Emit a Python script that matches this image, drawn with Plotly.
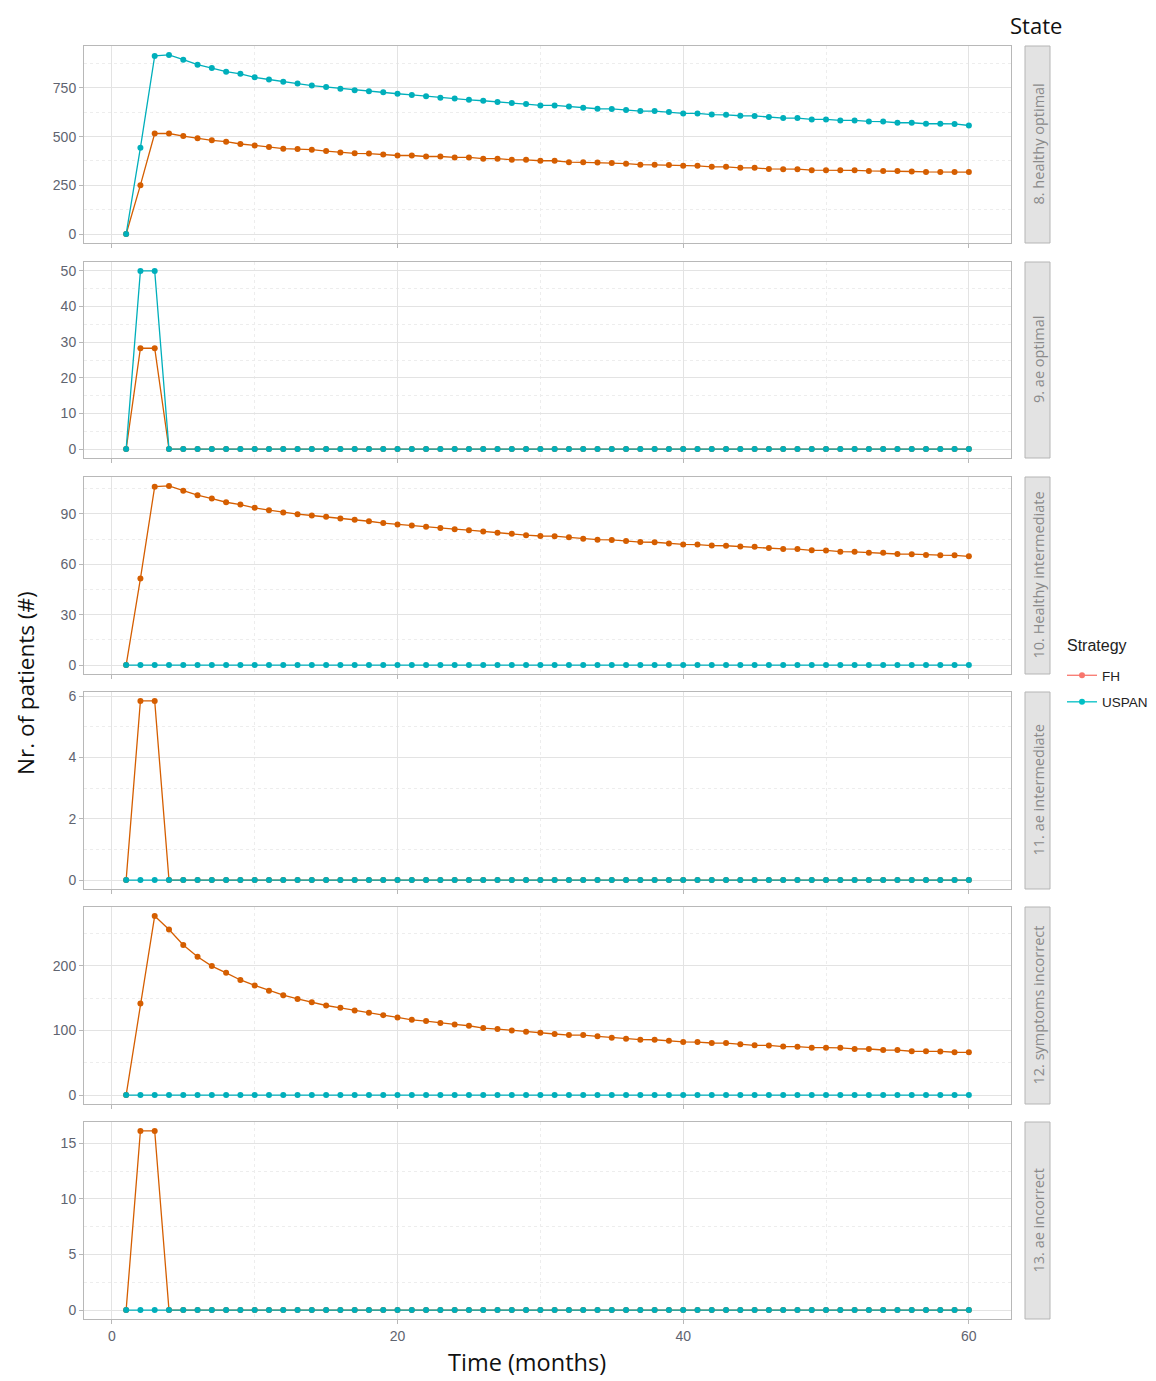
import plotly.graph_objects as go

months = list(range(1, 61))

panel_labels = ["8. healthy optimal", "9. ae optimal", "10. Healthy intermediate",
                "11. ae intermediate", "12. symptoms incorrect", "13. ae incorrect"]

# 8. healthy optimal
p8_fh = [0, 251, 516, 516, 503, 491, 481, 474, 462, 455, 447, 438, 436, 433, 426, 419, 414, 413, 408, 403,
         403, 398, 398, 393, 393, 387, 387, 381, 381, 376, 376, 369, 368, 367, 364, 361, 356, 355, 354, 350,
         350, 345, 345, 340, 340, 334, 333, 333, 328, 328, 328, 327, 324, 324, 323, 321, 319, 319, 319, 318]
p8_uspan = [0, 443, 914, 919, 895, 869, 852, 833, 822, 804, 793, 781, 772, 762, 755, 745, 738, 733, 727, 720,
            714, 707, 700, 695, 689, 684, 677, 672, 667, 660, 660, 655, 648, 643, 642, 637, 631, 631, 626, 619,
            619, 613, 612, 607, 606, 600, 595, 595, 588, 588, 583, 583, 578, 577, 571, 571, 566, 566, 565, 557]

# 9. ae optimal
p9_fh = [0, 28.3, 28.3, 0, 0, 0, 0, 0, 0, 0, 0, 0, 0, 0, 0, 0, 0, 0, 0, 0,
         0, 0, 0, 0, 0, 0, 0, 0, 0, 0, 0, 0, 0, 0, 0, 0, 0, 0, 0, 0,
         0, 0, 0, 0, 0, 0, 0, 0, 0, 0, 0, 0, 0, 0, 0, 0, 0, 0, 0, 0]
p9_uspan = [0, 50, 50, 0, 0, 0, 0, 0, 0, 0, 0, 0, 0, 0, 0, 0, 0, 0, 0, 0,
            0, 0, 0, 0, 0, 0, 0, 0, 0, 0, 0, 0, 0, 0, 0, 0, 0, 0, 0, 0,
            0, 0, 0, 0, 0, 0, 0, 0, 0, 0, 0, 0, 0, 0, 0, 0, 0, 0, 0, 0]

# 10. Healthy intermediate
p10_fh = [0, 51.5, 106.2, 106.6, 103.8, 101.1, 99.1, 96.9, 95.5, 93.6, 92.2, 90.8, 89.8, 89.0, 88.2, 87.3, 86.5, 85.6, 84.5, 83.7,
          83.1, 82.3, 81.5, 80.9, 80.3, 79.5, 78.7, 78.1, 77.3, 76.8, 76.7, 76.0, 75.2, 74.6, 74.5, 73.8, 73.2, 73.1, 72.4, 71.8,
          71.7, 71.1, 71.0, 70.5, 70.4, 69.7, 69.1, 69.0, 68.3, 68.2, 67.5, 67.4, 66.9, 66.8, 66.1, 66.0, 65.5, 65.4, 65.3, 64.7]
p10_uspan = [0, 0, 0, 0, 0, 0, 0, 0, 0, 0, 0, 0, 0, 0, 0, 0, 0, 0, 0, 0,
             0, 0, 0, 0, 0, 0, 0, 0, 0, 0, 0, 0, 0, 0, 0, 0, 0, 0, 0, 0,
             0, 0, 0, 0, 0, 0, 0, 0, 0, 0, 0, 0, 0, 0, 0, 0, 0, 0, 0, 0]

# 11. ae intermediate
p11_fh = [0, 5.85, 5.85, 0, 0, 0, 0, 0, 0, 0, 0, 0, 0, 0, 0, 0, 0, 0, 0, 0,
          0, 0, 0, 0, 0, 0, 0, 0, 0, 0, 0, 0, 0, 0, 0, 0, 0, 0, 0, 0,
          0, 0, 0, 0, 0, 0, 0, 0, 0, 0, 0, 0, 0, 0, 0, 0, 0, 0, 0, 0]
p11_uspan = [0, 0, 0, 0, 0, 0, 0, 0, 0, 0, 0, 0, 0, 0, 0, 0, 0, 0, 0, 0,
             0, 0, 0, 0, 0, 0, 0, 0, 0, 0, 0, 0, 0, 0, 0, 0, 0, 0, 0, 0,
             0, 0, 0, 0, 0, 0, 0, 0, 0, 0, 0, 0, 0, 0, 0, 0, 0, 0, 0, 0]

# 12. symptoms incorrect
p12_fh = [0, 141.5, 277, 256, 232, 214, 199.5, 189, 178, 169.5, 161.5, 154.4, 148.7, 143.6, 138.5, 134.9, 130.8, 127.2, 123.6, 120,
          116.4, 114.4, 111.3, 109.2, 107.2, 103.6, 102.1, 100, 97.9, 96.4, 94.4, 92.8, 92.7, 90.8, 88.7, 87.2, 85.6, 85.5, 84.1, 82.1,
          82.0, 80.5, 80.4, 78.5, 76.9, 76.8, 74.9, 74.8, 73.3, 73.2, 73.1, 71.3, 71.2, 69.7, 69.6, 67.7, 67.6, 67.5, 66.2, 66.1]
p12_uspan = [0, 0, 0, 0, 0, 0, 0, 0, 0, 0, 0, 0, 0, 0, 0, 0, 0, 0, 0, 0,
             0, 0, 0, 0, 0, 0, 0, 0, 0, 0, 0, 0, 0, 0, 0, 0, 0, 0, 0, 0,
             0, 0, 0, 0, 0, 0, 0, 0, 0, 0, 0, 0, 0, 0, 0, 0, 0, 0, 0, 0]

# 13. ae incorrect
p13_fh = [0, 16.1, 16.1, 0, 0, 0, 0, 0, 0, 0, 0, 0, 0, 0, 0, 0, 0, 0, 0, 0,
          0, 0, 0, 0, 0, 0, 0, 0, 0, 0, 0, 0, 0, 0, 0, 0, 0, 0, 0, 0,
          0, 0, 0, 0, 0, 0, 0, 0, 0, 0, 0, 0, 0, 0, 0, 0, 0, 0, 0, 0]
p13_uspan = [0, 0, 0, 0, 0, 0, 0, 0, 0, 0, 0, 0, 0, 0, 0, 0, 0, 0, 0, 0,
             0, 0, 0, 0, 0, 0, 0, 0, 0, 0, 0, 0, 0, 0, 0, 0, 0, 0, 0, 0,
             0, 0, 0, 0, 0, 0, 0, 0, 0, 0, 0, 0, 0, 0, 0, 0, 0, 0, 0, 0]

fh_series = [p8_fh, p9_fh, p10_fh, p11_fh, p12_fh, p13_fh]
uspan_series = [p8_uspan, p9_uspan, p10_uspan, p11_uspan, p12_uspan, p13_uspan]

y_ticks = [[0, 250, 500, 750], [0, 10, 20, 30, 40, 50], [0, 30, 60, 90],
           [0, 2, 4, 6], [0, 100, 200], [0, 5, 10, 15]]
y_minor = [[125, 375, 625, 875], [5, 15, 25, 35, 45], [15, 45, 75, 105],
           [1, 3, 5], [50, 150, 250], [2.5, 7.5, 12.5]]
x_ticks = [0, 20, 40, 60]
x_minor = [10, 30, 50]

FH_COLOR = "#D55E00"
USPAN_COLOR = "#00AFBB"
FH_KEY = "#F8766D"
USPAN_KEY = "#00BFC4"

# page body margin offset (8px) compensation
OFF = 8
W, H = 1156 - OFF, 1381 - OFF
# reference page pixel coordinates
L, R, T, B = 84, 1011, 46, 1319
panel_px = [(46, 243), (262, 458), (477, 674), (692, 889), (907, 1104), (1122, 1319)]


def ypap(p):
    return (B - p) / (B - T)


def xpap(p):
    return (p - L) / (R - L)


fig = go.Figure()
layout = dict()
shapes = []
annotations = []

GRID = "#E3E3E3"
MINOR = "#EDEDED"
BORDER = "#B8B8B8"
TICKFONT = dict(family="Liberation Sans, Arial", size=14, color="#5F6470")
TITLEFONT = "Open Sans, Noto Sans"

for i in range(6):
    n = i + 1
    xa = "x" if n == 1 else f"x{n}"
    ya = "y" if n == 1 else f"y{n}"
    fig.add_trace(go.Scatter(x=months, y=fh_series[i], mode="lines+markers", xaxis=xa, yaxis=ya,
                             line=dict(color=FH_COLOR, width=1.3), marker=dict(color=FH_COLOR, size=6),
                             showlegend=False, name="FH"))
    fig.add_trace(go.Scatter(x=months, y=uspan_series[i], mode="lines+markers", xaxis=xa, yaxis=ya,
                             line=dict(color=USPAN_COLOR, width=1.3), marker=dict(color=USPAN_COLOR, size=6),
                             showlegend=False, name="USPAN"))
    vals = fh_series[i] + uspan_series[i]
    lo, hi = min(vals), max(vals)
    span = hi - lo
    top, bot = panel_px[i]
    xkey = "xaxis" if n == 1 else f"xaxis{n}"
    ykey = "yaxis" if n == 1 else f"yaxis{n}"
    layout[xkey] = dict(
        domain=[0, 1], anchor=ya, range=[1 - 0.05 * 59, 60 + 0.05 * 59],
        tickvals=x_ticks, ticktext=[str(v) for v in x_ticks], showticklabels=(n == 6),
        ticks="outside", ticklen=4, tickcolor=BORDER, tickfont=TICKFONT,
        showgrid=True, gridcolor=GRID, gridwidth=1, zeroline=False,
        showline=True, linecolor=BORDER, linewidth=1, mirror=True,
        minor=dict(tickvals=x_minor, showgrid=True, gridcolor=MINOR, griddash="dot", ticklen=0),
        matches=None if n == 1 else "x",
    )
    layout[ykey] = dict(
        domain=[ypap(bot), ypap(top)], anchor=xa, range=[lo - 0.05 * span, hi + 0.05 * span],
        tickvals=y_ticks[i], ticktext=[str(v) for v in y_ticks[i]],
        ticks="outside", ticklen=4, tickcolor=BORDER, tickfont=TICKFONT,
        showgrid=True, gridcolor=GRID, gridwidth=1, zeroline=False,
        showline=True, linecolor=BORDER, linewidth=1, mirror=True,
        minor=dict(tickvals=y_minor[i], showgrid=True, gridcolor=MINOR, griddash="dot", ticklen=0),
    )
    # strip
    shapes.append(dict(type="rect", xref="paper", yref="paper",
                       x0=xpap(1025), x1=xpap(1050), y0=ypap(bot), y1=ypap(top),
                       fillcolor="#E3E3E3", line=dict(color="#B5B5B5", width=1)))
    annotations.append(dict(text=panel_labels[i], xref="paper", yref="paper",
                            x=xpap(1038), y=(ypap(bot) + ypap(top)) / 2, textangle=-90,
                            showarrow=False, xanchor="center", yanchor="middle",
                            font=dict(family=TITLEFONT, size=14.5, color="#8A8A8A")))

# legend key traces (ggplot default palette shown in legend)
fig.add_trace(go.Scatter(x=[None], y=[None], mode="lines+markers", name="FH", legendgroup="fh",
                         line=dict(color=FH_KEY, width=1.3), marker=dict(color=FH_KEY, size=6)))
fig.add_trace(go.Scatter(x=[None], y=[None], mode="lines+markers", name="USPAN", legendgroup="uspan",
                         line=dict(color=USPAN_KEY, width=1.3), marker=dict(color=USPAN_KEY, size=6)))

annotations.append(dict(text="Strategy", xref="paper", yref="paper", x=xpap(1065), y=ypap(645),
                        showarrow=False, xanchor="left", yanchor="middle",
                        font=dict(family="Liberation Sans, Arial", size=16, color="#222222")))
annotations.append(dict(text="State", xref="paper", yref="paper", x=xpap(1036), y=ypap(8),
                        showarrow=False, xanchor="center", yanchor="top",
                        font=dict(family=TITLEFONT, size=22, color="#111111")))
annotations.append(dict(text="Nr. of patients (#)", xref="paper", yref="paper", x=xpap(25), y=ypap(683),
                        textangle=-90, showarrow=False, xanchor="center", yanchor="middle",
                        font=dict(family=TITLEFONT, size=22.5, color="#111111")))
annotations.append(dict(text="Time (months)", xref="paper", yref="paper", x=xpap(527), y=ypap(1362),
                        showarrow=False, xanchor="center", yanchor="middle",
                        font=dict(family=TITLEFONT, size=23.5, color="#111111")))

fig.update_layout(
    width=W, height=H,
    margin=dict(l=L - OFF, r=W - (R - OFF), t=T - OFF, b=H - (B - OFF), autoexpand=False),
    paper_bgcolor="white", plot_bgcolor="white",
    shapes=shapes, annotations=annotations,
    showlegend=True,
    legend=dict(x=xpap(1062), y=ypap(660), xanchor="left", yanchor="top",
                font=dict(family="Liberation Sans, Arial", size=13.5, color="#222222"),
                bgcolor="rgba(0,0,0,0)", itemwidth=30, tracegroupgap=6),
    **layout,
)

fig.write_html("out.html")
